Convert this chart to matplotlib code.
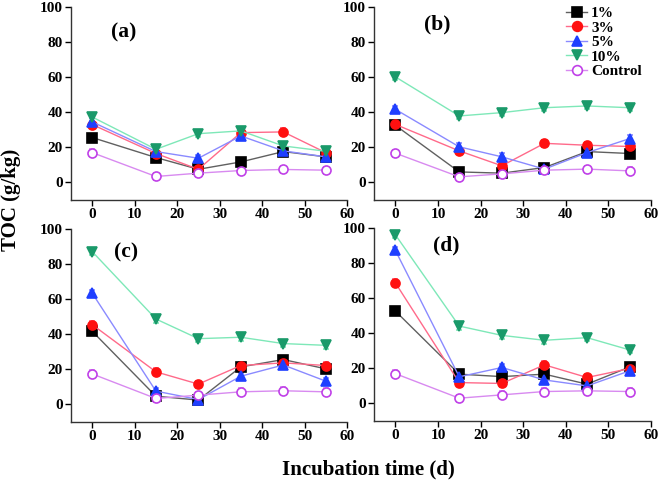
import matplotlib
matplotlib.use("Agg")
import matplotlib.pyplot as plt
from matplotlib.lines import Line2D

days = [0, 15, 25, 35, 45, 55]
series_names = ["1%", "3%", "5%", "10%", "Control"]

a_1 = [25.6, 14.2, 7.5, 11.7, 17.6, 14.6]
a_3 = [33.0, 16.5, 7.5, 28.4, 28.8, 17.0]
a_5 = [34.5, 17.6, 13.8, 26.5, 18.0, 14.6]
a_10 = [37.3, 18.9, 27.8, 29.4, 20.8, 17.8]
a_c = [17.0, 3.4, 5.3, 6.8, 7.4, 7.0]

b_1 = [32.6, 6.0, 5.3, 8.5, 17.6, 16.5]
b_3 = [33.1, 18.0, 9.5, 22.3, 21.2, 20.5]
b_5 = [41.7, 20.3, 14.6, 7.6, 17.0, 25.0]
b_10 = [60.2, 37.9, 39.8, 42.6, 43.6, 42.6]
b_c = [16.7, 3.2, 4.9, 7.0, 7.6, 6.6]

c_1 = [41.7, 4.7, 2.5, 21.4, 25.6, 20.3]
c_3 = [45.5, 18.6, 11.6, 22.2, 23.7, 22.2]
c_5 = [63.4, 7.6, 2.8, 16.1, 22.5, 13.3]
c_10 = [87.1, 48.7, 37.5, 38.3, 34.7, 33.7]
c_c = [17.4, 3.4, 5.3, 7.2, 7.8, 7.2]

d_1 = [52.7, 16.7, 15.3, 16.7, 11.0, 20.8]
d_3 = [68.8, 11.9, 11.4, 22.0, 14.8, 19.9]
d_5 = [87.3, 15.2, 20.5, 13.4, 10.0, 18.6]
d_10 = [96.2, 44.1, 38.8, 36.0, 37.5, 30.5]
d_c = [17.0, 3.0, 4.9, 6.8, 7.2, 6.8]

panels = [
    ("(a)", [a_1, a_3, a_5, a_10, a_c]),
    ("(b)", [b_1, b_3, b_5, b_10, b_c]),
    ("(c)", [c_1, c_3, c_5, c_10, c_c]),
    ("(d)", [d_1, d_3, d_5, d_10, d_c]),
]

xticks = [0, 10, 20, 30, 40, 50, 60]
yticks = [0, 20, 40, 60, 80, 100]

styles = [
    dict(marker="s", mfc="black", mec="black", color="#606060"),
    dict(marker="o", mfc="#ff1010", mec="#ff1010", color="#ff6a8a"),
    dict(marker="^", mfc="#1f3fff", mec="#1f3fff", color="#8a8aff"),
    dict(marker="v", mfc="#1a9a6a", mec="#1a9a6a", color="#7ee8b8"),
    dict(marker="o", mfc="white", mec="#c040e8", color="#d88af0"),
]

plt.rcParams["font.family"] = ["Liberation Serif", "DejaVu Serif"]
plt.rcParams["font.weight"] = "bold"

fig = plt.figure(figsize=(6.61, 4.87), dpi=100)
W, H = 661.0, 487.0
boxes = [
    (71, 347, 7, 200),
    (374, 651, 7, 200),
    (71, 347, 229, 422),
    (374, 651, 228, 421),
]
label_pos = [(0.19, 0.87), (0.23, 0.91), (0.20, 0.88), (0.26, 0.91)]

axes = []
for (lab, data), (x0, x1, y0, y1), lp in zip(panels, boxes, label_pos):
    ax = fig.add_axes([x0 / W, 1 - y1 / H, (x1 - x0) / W, (y1 - y0) / H])
    for vals, st in zip(data, styles):
        ax.errorbar(days, vals, yerr=2.0, marker=st["marker"], ms=6.5,
                    mfc=st["mfc"], mec=st["mec"], mew=1.2, color=st["color"],
                    lw=1.0, ecolor=st["color"], elinewidth=0.8, capsize=2)
    ax.set_xlim(-5, 60)
    ax.set_ylim(-10, 100)
    ax.set_xticks(xticks)
    ax.set_yticks(yticks)
    ax.spines["top"].set_visible(False)
    ax.spines["right"].set_visible(False)
    for s in ("left", "bottom"):
        ax.spines[s].set_linewidth(1.0)
        ax.spines[s].set_color("#333333")
    ax.tick_params(direction="out", length=4, width=1, labelsize=11, pad=2)
    for t in ax.get_xticklabels() + ax.get_yticklabels():
        t.set_fontweight("bold")
    ax.text(lp[0], lp[1], lab, transform=ax.transAxes, ha="center", va="center",
            fontsize=15.5, fontweight="bold")
    axes.append(ax)

handles = [Line2D([], [], marker=st["marker"], ms=7, mfc=st["mfc"], mec=st["mec"],
                  mew=1.2, color=st["color"], lw=1.0) for st in styles]
leg = axes[1].legend(handles, series_names, loc="upper right",
                     bbox_to_anchor=(1.0, 1.05), frameon=False,
                     fontsize=11, handlelength=1.4, handletextpad=0.25,
                     labelspacing=0.05, borderaxespad=0.2)
for t in leg.get_texts():
    t.set_fontweight("bold")

fig.text(11 / W, 1 - 200 / H, "TOC (g/kg)", rotation=90, ha="center", va="center",
         fontsize=15, fontweight="bold")
fig.text(368 / W, 1 - 469 / H, "Incubation time (d)", ha="center", va="center",
         fontsize=15, fontweight="bold")

fig.savefig("out.png", dpi=100)
